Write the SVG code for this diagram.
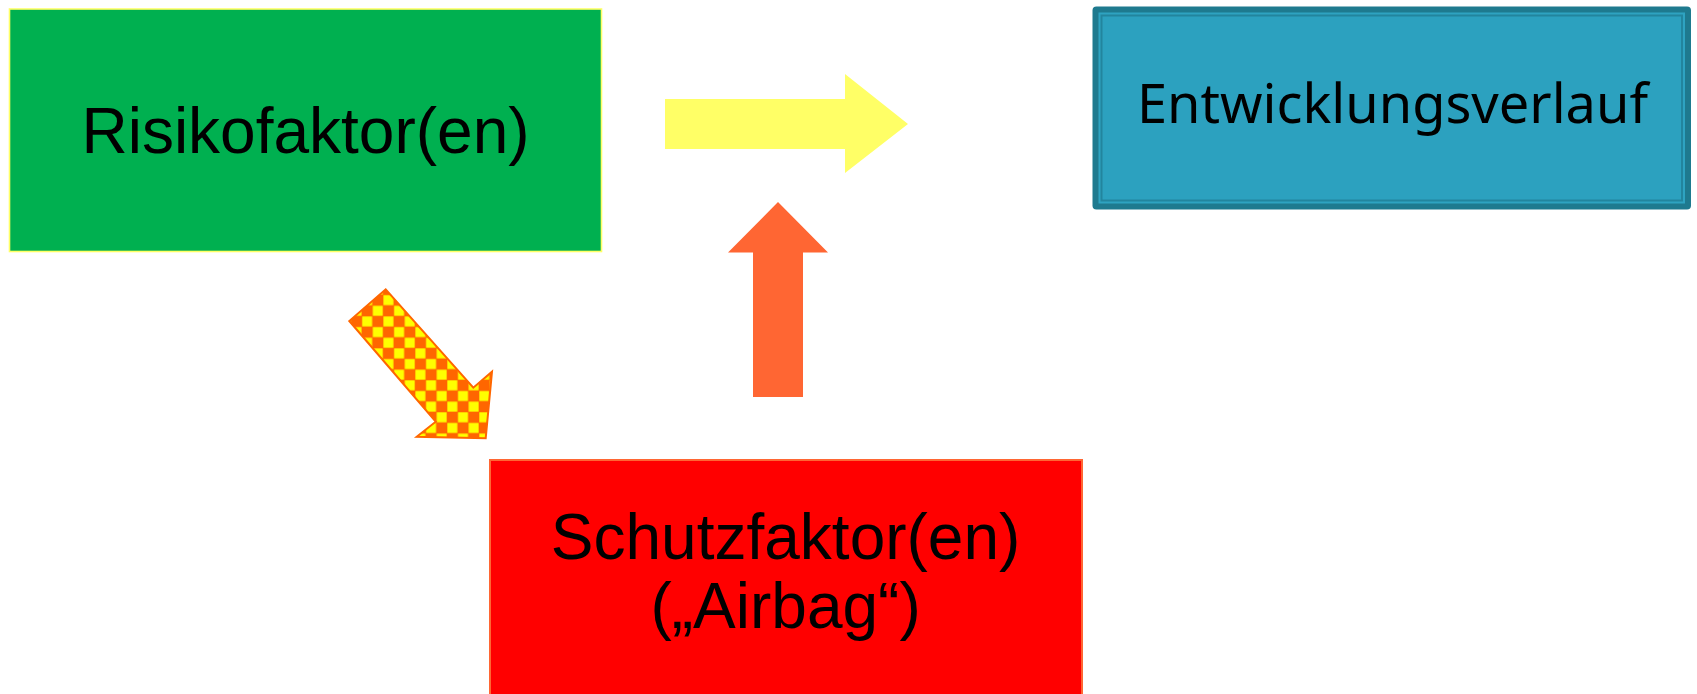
<svg xmlns="http://www.w3.org/2000/svg" width="1697" height="694" viewBox="0 0 1697 694">
  <style>
    .lbl { font-family: "Liberation Sans", Arial, sans-serif; font-size: 64px; fill: #000; text-anchor: middle; }
    .lbl2 { font-family: "Noto Sans", "Open Sans", sans-serif; font-size: 54px; fill: #000; text-anchor: middle; }
  </style>
  <defs>
    <pattern id="checker" patternUnits="userSpaceOnUse" x="10.4" y="7.3" width="21.3" height="21.3">
      <rect width="21.3" height="21.3" fill="#FF6600"/>
      <rect x="0.3" y="0.3" width="10" height="10" fill="#FFFF00"/>
      <rect x="10.95" y="10.95" width="10" height="10" fill="#FFFF00"/>
    </pattern>
  </defs>
  <rect width="1697" height="694" fill="#FFFFFF"/>

  <g id="risikofaktoren">
    <rect x="9.5" y="9" width="592" height="242.5" fill="#00B050" stroke="#FFFF66" stroke-width="1.6"/>
    <text class="lbl" x="305.5" y="152.7">Risikofaktor(en)</text>
  </g>

  <g id="schutzfaktoren">
    <rect x="490" y="460" width="592" height="240" fill="#FF0000" stroke="#FF6633" stroke-width="2"/>
    <text class="lbl" x="785.6" y="559.3">Schutzfaktor(en)</text>
    <text class="lbl" x="785.6" y="628.3">(„Airbag“)</text>
  </g>

  <g id="entwicklungsverlauf">
    <rect x="1092.5" y="6.5" width="598.5" height="203" rx="4" fill="#1E7A8F"/>
    <rect x="1098.5" y="12.5" width="586.5" height="191" fill="#2EA3C1"/>
    <rect x="1101.5" y="15.5" width="580.5" height="185" fill="#2CA1BF" stroke="#22859E" stroke-width="2"/>
    <text class="lbl2" x="1392.5" y="122.7" textLength="511" lengthAdjust="spacingAndGlyphs">Entwicklungsverlauf</text>
  </g>

  <g id="connectors">
    <polygon points="665,99 845,99 845,74 908,124 845,173 845,149 665,149" fill="#FFFF66"/>
    <polygon points="778,202 828,252.5 803,252.5 803,397 753,397 753,252.5 728,252.5" fill="#FF6633"/>
    <polygon points="385.7,289.3 473.3,387.7 492,371.7 485.7,438.3 416.7,436.7 435.7,421.7 349.3,321" fill="url(#checker)" stroke="#FF6600" stroke-width="2" stroke-linejoin="miter"/>
  </g>
</svg>
